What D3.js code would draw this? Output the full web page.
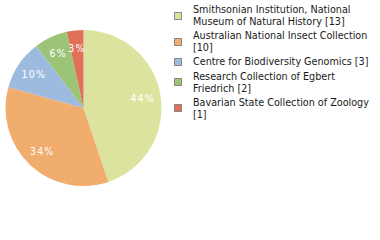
<!DOCTYPE html>
<html><head><meta charset="utf-8">
<script src="https://cdn.jsdelivr.net/npm/d3@7"></script>
<style>body{margin:0;background:#fff}svg{display:block}</style>
</head><body>
<svg id="c" width="380" height="240"></svg>
<script>
const categories = [
  ["Smithsonian Institution, National", "Museum of Natural History [13]"],
  ["Australian National Insect Collection", "[10]"],
  ["Centre for Biodiversity Genomics [3]"],
  ["Research Collection of Egbert", "Friedrich [2]"],
  ["Bavarian State Collection of Zoology", "[1]"]
];
const values = [13, 10, 3, 2, 1];
const colors = ["#dce39f", "#f0ad6e", "#9dbbdf", "#9bc476", "#de7158"];

const svg = d3.select("#c");
const cx = 83.5, cy = 108, r = 78, lr = 60;
const total = d3.sum(values);
const pie = d3.pie().sort(null).value(d => d)(values);
const arc = d3.arc().innerRadius(0).outerRadius(r);
const larc = d3.arc().innerRadius(lr).outerRadius(lr);
const g = svg.append("g").attr("transform", `translate(${cx},${cy})`);
g.selectAll("path").data(pie).join("path")
  .attr("d", arc).attr("fill", (d, i) => colors[i]);
g.selectAll("text").data(pie).join("text")
  .attr("transform", d => `translate(${larc.centroid(d)})`)
  .attr("text-anchor", "middle").attr("dy", "0.35em")
  .attr("fill", "#fff").attr("font-family", "DejaVu Sans Condensed, DejaVu Sans, sans-serif")
  .attr("font-size", 10.5).attr("letter-spacing", 1.2)
  .text(d => Math.floor(d.data / total * 100) + "%");

const leg = svg.append("g").attr("font-family", "DejaVu Sans Condensed, DejaVu Sans, sans-serif")
  .attr("font-size", 10.7).attr("fill", "#1a1a1a");
let y = 13;
const lineH = 12, gap = 14.2;
categories.forEach((lines, i) => {
  const top = y - 8, bot = y + (lines.length - 1) * lineH;
  const mid = (top + bot) / 2;
  leg.append("rect").attr("x", 174.5).attr("y", Math.round(mid - 3.5) + 0.5).attr("width", 7).attr("height", 7)
    .attr("fill", colors[i]).attr("stroke", "#888").attr("stroke-width", 1);
  lines.forEach((t, j) => {
    leg.append("text").attr("x", 193).attr("y", y + j * lineH).text(t);
  });
  y = bot + gap;
});
</script>
</body></html>
